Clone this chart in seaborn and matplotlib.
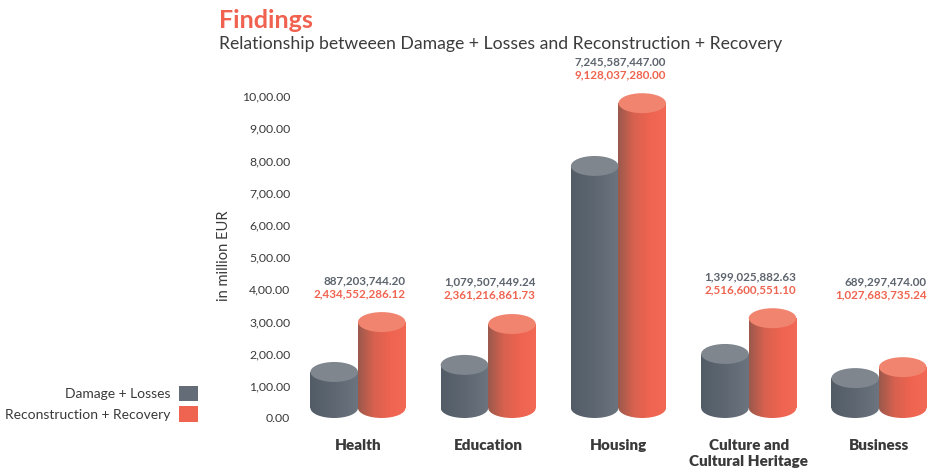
import numpy as np
import pandas as pd
import matplotlib
matplotlib.use("Agg")
import matplotlib.pyplot as plt
import seaborn as sns
from matplotlib.colors import LinearSegmentedColormap
from matplotlib.patches import Ellipse, Patch

# categories and series
categories = ["Health", "Education", "Housing", "Culture and\nCultural Heritage", "Business"]
series = ["Damage + Losses", "Reconstruction + Recovery"]

# bar heights as drawn on the axis (top of cylinder)
damage_heights = [1.43, 1.65, 7.83, 1.99, 1.24]
recon_heights = [2.98, 2.92, 9.78, 3.10, 1.58]

# value labels printed above the bars (EUR)
damage_labels = ["887,203,744.20", "1,079,507,449.24", "7,245,587,447.00",
                 "1,399,025,882.63", "689,297,474.00"]
recon_labels = ["2,434,552,286.12", "2,361,216,861.73", "9,128,037,280.00",
                "2,516,600,551.10", "1,027,683,735.24"]

ytick_values = [0, 1, 2, 3, 4, 5, 6, 7, 8, 9, 10]
ytick_labels = ["0.00", "1,00.00", "2,00.00", "3,00.00", "4,00.00", "5,00.00",
                "6,00.00", "7,00.00", "8,00.00", "9,00.00", "10,00.00"]

GRAY = "#646d77"
RED = "#ef6450"
TEXT_GRAY = "#5d646d"
DARK = "#3a3a3a"


def main():
    sns.set_style("white")
    plt.rcParams["font.family"] = ["Lato", "DejaVu Sans"]

    df = pd.DataFrame({
        "category": categories * 2,
        "series": [series[0]] * 5 + [series[1]] * 5,
        "value": damage_heights + recon_heights,
    })

    fig = plt.figure(figsize=(9.29, 4.68), dpi=100)
    ax = fig.add_axes([300 / 929, (468 - 418) / 468, 629 / 929, (418 - 80) / 468])

    sns.barplot(df, x="category", y="value", hue="series", order=categories,
                hue_order=series, palette=[GRAY, RED], width=0.73, gap=0,
                legend=False, ax=ax, saturation=1)

    ry = 0.31
    cmaps = [
        LinearSegmentedColormap.from_list("g", ["#525c67", "#5e6771", "#6c757f"]),
        LinearSegmentedColormap.from_list("r", ["#9a594c", "#d8614f", "#ee6450", "#f26955"]),
    ]
    top_colors = ["#7f868e", "#f1846f"]
    grad = np.linspace(0, 1, 256).reshape(1, -1)

    for si, cont in enumerate(ax.containers):
        for p in cont.patches:
            x0 = p.get_x()
            w = p.get_width()
            top = p.get_height()
            xc = x0 + w / 2
            p.set_y(ry)
            p.set_height(top - ry)
            p.set_zorder(1)
            im = ax.imshow(grad, cmap=cmaps[si], aspect="auto",
                           extent=[x0, x0 + w, 0, top], zorder=2)
            im.set_clip_path(p)
            bot = Ellipse((xc, ry), w, 2 * ry, facecolor="none", edgecolor="none")
            ax.add_patch(bot)
            im2 = ax.imshow(grad, cmap=cmaps[si], aspect="auto",
                            extent=[x0, x0 + w, 0, 2 * ry], zorder=2)
            im2.set_clip_path(bot)
            ax.add_patch(Ellipse((xc, top), w, 2 * ry, facecolor=top_colors[si],
                                 edgecolor="none", zorder=3))

    # value labels
    for i in range(len(categories)):
        xr = i + 0.365
        y_red = max(3.82, recon_heights[i] + 0.87)
        ax.text(xr, y_red, recon_labels[i], ha="right", va="center", color=RED,
                fontsize=8.4, fontweight="bold", clip_on=False)
        ax.text(xr, y_red + 0.42, damage_labels[i], ha="right", va="center",
                color=TEXT_GRAY, fontsize=8.4, fontweight="bold", clip_on=False)

    ax.set_xlim(-0.445, 4.384)
    ax.set_ylim(0, 10.5)
    ax.set_yticks(ytick_values)
    ax.set_yticklabels(ytick_labels)
    ax.tick_params(axis="y", length=0, pad=7, labelsize=8.8, labelcolor=DARK)
    ax.tick_params(axis="x", length=0, pad=15)
    for lbl in ax.get_xticklabels():
        lbl.set_fontweight("heavy")
        lbl.set_fontsize(11)
        lbl.set_color(DARK)
        lbl.set_va("top")
        lbl.set_linespacing(1.25)
    ax.set_xlabel("")
    ax.set_ylabel("in million EUR", fontsize=10.5, color=DARK, labelpad=8, y=0.48)
    sns.despine(ax=ax, left=True, bottom=True)

    fig.text(219 / 929, 1 - 20 / 468, "Findings", fontsize=18, fontweight="bold",
             color="#f0624f", va="center", ha="left")
    fig.text(219 / 929, 1 - 44 / 468,
             "Relationship betweeen Damage + Losses and Reconstruction + Recovery",
             fontsize=12.7, color="#3c3c3c", va="center", ha="left")

    handles = [Patch(facecolor=GRAY, edgecolor="none"), Patch(facecolor=RED, edgecolor="none")]
    fig.legend(handles, series, loc="lower right", markerfirst=False, frameon=False,
               bbox_to_anchor=(209 / 929, (468 - 433) / 468), fontsize=10,
               labelcolor=DARK, handlelength=1.35, handleheight=1.35,
               handletextpad=0.6, labelspacing=0.35, borderpad=0.3)

    fig.savefig("out.png", dpi=100)
    plt.close(fig)


if __name__ == "__main__":
    main()
